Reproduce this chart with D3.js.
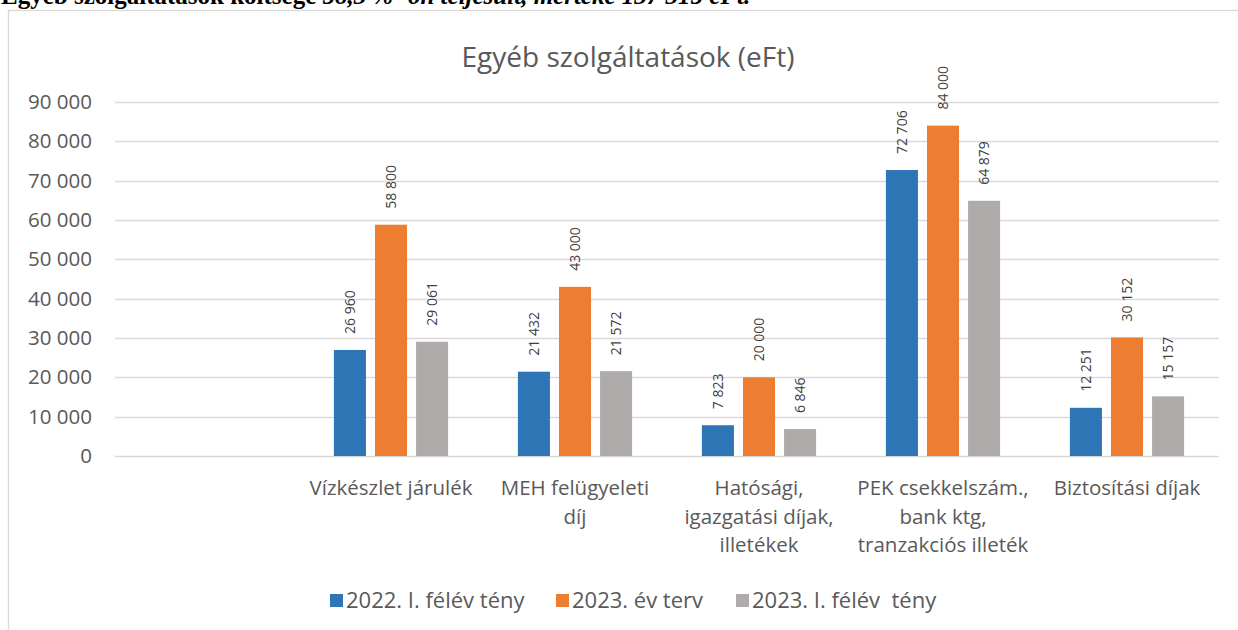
<!DOCTYPE html>
<html>
<head>
<meta charset="utf-8">
<script src="https://cdn.jsdelivr.net/npm/d3@7"></script>
<style>
  body { margin: 0; background: #fff; }
  text { font-family: "Open Sans", sans-serif; fill: #595959; }
</style>
</head>
<body>
<div id="chart"></div>
<script>
var width = 1238;
var height = 630;

// data
var categories = ['', 'Vízkészlet járulék', 'MEH felügyeleti\ndíj', 'Hatósági,\nigazgatási díjak,\nilletékek', 'PEK csekkelszám.,\nbank ktg,\ntranzakciós illeték', 'Biztosítási díjak'];
var seriesNames = ['2022. I. félév tény', '2023. év terv', '2023. I. félév  tény'];
var tenyed2022 = [null, 26960, 21432, 7823, 72706, 12251];
var terv2023 = [null, 58800, 43000, 20000, 84000, 30152];
var teny2023 = [null, 29061, 21572, 6846, 64879, 15157];
var yTicks = [0, 10000, 20000, 30000, 40000, 50000, 60000, 70000, 80000, 90000];
var colors = ['#2e75b6', '#ed7d31', '#afabab'];

var seriesValues = [tenyed2022, terv2023, teny2023];

var svg = d3.select('#chart')
    .append('svg')
    .attr('width', width)
    .attr('height', height);

// heading line of the document, cut off at the top (as in the source)
var head = svg.append('text')
    .attr('x', 1)
    .attr('y', 4)
    .style('font-family', '"Liberation Serif", serif')
    .style('font-size', '25px')
    .style('font-weight', 'bold')
    .style('fill', '#000');
head.append('tspan').text('Egyéb szolgáltatások költsége ');
head.append('tspan').style('font-style', 'italic').text('58,3 % -on teljesült, mértéke 137 315 eFt.');

// chart frame
svg.append('rect')
    .attr('x', 8.5)
    .attr('y', 10.5)
    .attr('width', 1245)
    .attr('height', 640)
    .attr('fill', 'none')
    .attr('stroke', '#d9d9d9')
    .attr('stroke-width', 1.3);

svg.append('text')
    .attr('x', 628)
    .attr('y', 67)
    .attr('text-anchor', 'middle')
    .style('font-size', '28px')
    .text('Egyéb szolgáltatások (eFt)');

var x0 = d3.scaleBand()
    .domain(d3.range(categories.length))
    .range([115, 1219]);

var x1 = d3.scaleBand()
    .domain(d3.range(seriesNames.length))
    .range([0, x0.bandwidth()])
    .paddingInner(0.22)
    .paddingOuter(0.85);

var y = d3.scaleLinear()
    .domain([0, 90000])
    .range([456, 102]);

var fmt = function(v) { return d3.format(',')(v).replace(/,/g, ' '); };

// gridlines
svg.append('g')
    .selectAll('line')
    .data(yTicks)
    .enter()
    .append('line')
    .attr('x1', 115)
    .attr('x2', 1219)
    .attr('y1', function(d) { return Math.round(y(d)) + 0.5; })
    .attr('y2', function(d) { return Math.round(y(d)) + 0.5; })
    .attr('stroke', '#d9d9d9')
    .attr('stroke-width', 1.3);

// y axis labels
var yAxis = svg.append('g')
    .attr('transform', 'translate(115,0)')
    .call(d3.axisLeft(y).tickValues(yTicks).tickFormat(fmt).tickSize(0).tickPadding(23));
yAxis.select('.domain').remove();
yAxis.selectAll('text')
    .style('font-size', '20.5px')
    .style('font-family', '"Open Sans", sans-serif')
    .attr('fill', '#595959');

// bars
var groups = svg.append('g')
    .selectAll('g')
    .data(seriesValues)
    .enter()
    .append('g')
    .attr('fill', function(d, i) { return colors[i]; });

groups.each(function(vals, s) {
    var g = d3.select(this);
    var pts = vals.map(function(v, c) { return {v: v, c: c}; }).filter(function(d) { return d.v != null; });

    g.selectAll('rect')
        .data(pts)
        .enter()
        .append('rect')
        .attr('x', function(d) { return x0(d.c) + x1(s); })
        .attr('width', x1.bandwidth())
        .attr('y', function(d) { return y(d.v); })
        .attr('height', function(d) { return y(0) - y(d.v); });

    g.selectAll('text')
        .data(pts)
        .enter()
        .append('text')
        .attr('transform', function(d) {
            return 'translate(' + (x0(d.c) + x1(s) + x1.bandwidth() / 2) + ',' + (y(d.v) - 16) + ') rotate(-90)';
        })
        .attr('dy', '0.35em')
        .style('font-size', '14px')
        .style('fill', '#404040')
        .text(function(d) { return fmt(d.v); });
});

// category labels
var cat = svg.append('g')
    .selectAll('text')
    .data(categories)
    .enter()
    .append('text')
    .attr('text-anchor', 'middle')
    .style('font-size', '20.5px')
    .attr('transform', function(d, i) { return 'translate(' + (x0(i) + x0.bandwidth() / 2) + ',495)'; });

cat.selectAll('tspan')
    .data(function(d) { return d.split('\n'); })
    .enter()
    .append('tspan')
    .attr('x', 0)
    .attr('y', function(d, i) { return i * 28.5; })
    .text(function(d) { return d; });

// legend
var legendX = [330, 556, 736];
var legend = svg.append('g')
    .selectAll('g')
    .data(seriesNames)
    .enter()
    .append('g')
    .attr('transform', function(d, i) { return 'translate(' + legendX[i] + ',594)'; });

legend.append('rect')
    .attr('width', 13)
    .attr('height', 13)
    .attr('fill', function(d, i) { return colors[i]; });

legend.append('text')
    .attr('x', 16)
    .attr('y', 14)
    .style('font-size', '22px')
    .style('white-space', 'pre')
    .text(function(d) { return d; });
</script>
</body>
</html>
